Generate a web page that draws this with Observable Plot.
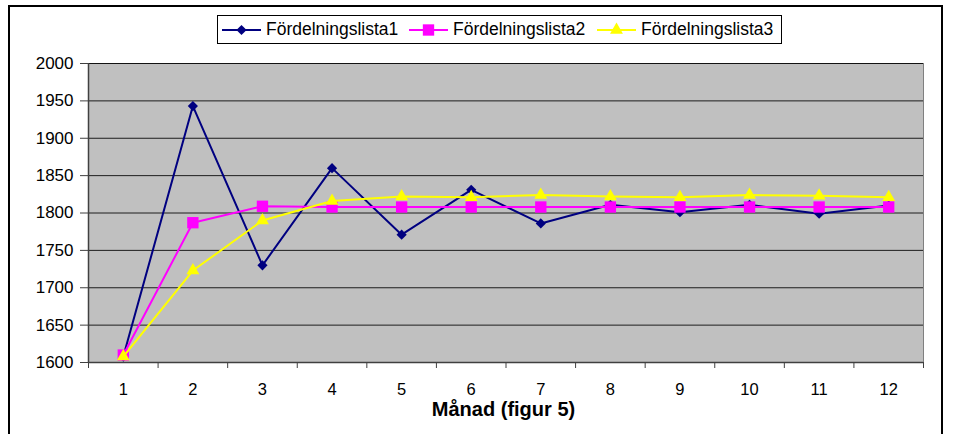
<!DOCTYPE html>
<html>
<head>
<meta charset="utf-8">
<script src="https://cdn.jsdelivr.net/npm/d3@7"></script>
<script src="https://cdn.jsdelivr.net/npm/@observablehq/plot@0.6"></script>
<style>
  html, body { margin: 0; padding: 0; background: #fff; }
  #wrap { position: relative; width: 953px; height: 434px; overflow: hidden; font-family: "Liberation Sans", Arial, sans-serif; }
  #border { position: absolute; left: 8px; top: 5px; width: 935px; height: 440px; border: 2px solid #000; box-sizing: border-box; }
  #chart { position: absolute; left: 0; top: 0; }
  #legend { position: absolute; left: 217px; top: 15px; width: 565px; height: 29px; border: 1px solid #000; box-sizing: border-box; background: #fff; }
  .item { position: absolute; top: 0; height: 27px; display: flex; align-items: center; font-size: 17.5px; color: #000; white-space: nowrap; }
  .item svg { margin-right: 5px; }
</style>
</head>
<body>
<div id="wrap">
  <div id="border"></div>
  <div id="chart"></div>
  <div id="legend"></div>
</div>
<script>
const months = [1, 2, 3, 4, 5, 6, 7, 8, 9, 10, 11, 12];
const seriesNames = ["Fördelningslista1", "Fördelningslista2", "Fördelningslista3"];
const lista1 = [1608, 1943, 1730, 1860, 1771, 1831, 1786, 1811, 1801, 1811, 1799, 1810];
const lista2 = [1610, 1787, 1809, 1808, 1808, 1808, 1808, 1808, 1808, 1808, 1808, 1808];
const lista3 = [1608, 1723, 1790, 1816, 1822, 1821, 1824, 1822, 1821, 1824, 1823, 1821];
const yTicks = [1600, 1650, 1700, 1750, 1800, 1850, 1900, 1950, 2000];
const xTitle = "Månad (figur 5)";

const styles = [
  {color: "#000080", symbol: "diamond2", r: 4.6},
  {color: "#FF00FF", symbol: "square", r: 6.4},
  {color: "#FFFF00", symbol: "triangle", r: 4.8}
];

const allSeries = [lista1, lista2, lista3];
const tables = allSeries.map((vals, i) => months.map((m, j) => ({month: m, value: vals[j], series: seriesNames[i]})));
const bounds = months.map(m => m - 0.5).concat([months[months.length - 1] + 0.5]);

const seriesMarks = [];
tables.forEach((t, i) => {
  const s = styles[i];
  seriesMarks.push(Plot.line(t, {x: "month", y: "value", stroke: s.color, strokeWidth: 2}));
  seriesMarks.push(Plot.dot(t, {x: "month", y: "value", symbol: () => s.symbol, fill: s.color, stroke: "none", r: s.r}));
});

const chart = Plot.plot({
  width: 953,
  height: 434,
  marginLeft: 88,
  marginRight: 30,
  marginTop: 63,
  marginBottom: 72,
  style: {background: "none", fontFamily: "'Liberation Sans', Arial, sans-serif", color: "#000", overflow: "visible"},
  x: {type: "linear", domain: [bounds[0], bounds[bounds.length - 1]]},
  y: {type: "linear", domain: [yTicks[0], yTicks[yTicks.length - 1]]},
  symbol: {type: "identity"},
  marks: [
    Plot.frame({fill: "#C0C0C0", stroke: "#808080"}),
    Plot.ruleY(yTicks, {stroke: "#000", strokeWidth: 1, strokeOpacity: 0.85}),
    Plot.axisY({ticks: yTicks, tickSize: 8, tickPadding: 7, fontSize: 17, tickFormat: d => String(d), label: null, stroke: "#404040"}),
    Plot.axisX({ticks: bounds, tickSize: 6, tickFormat: () => "", label: null, stroke: "#404040"}),
    Plot.axisX({ticks: months, tickSize: 0, tickPadding: 21, fontSize: 16.5, tickFormat: d => String(d), label: null}),
    Plot.ruleX([bounds[0]], {stroke: "#404040", strokeWidth: 1.5}),
    Plot.ruleY([yTicks[0]], {stroke: "#404040", strokeWidth: 1.5}),
    ...seriesMarks,
    Plot.text([xTitle], {frameAnchor: "bottom", dx: -2.5, dy: 53, fontWeight: "bold", fontSize: 20, fill: "#000"})
  ]
});
document.getElementById("chart").appendChild(chart);

// Legend
const legend = document.getElementById("legend");
const itemLefts = [4, 191, 379];
const symbolGen = {
  diamond2: d3.symbolDiamond2,
  square: d3.symbolSquare,
  triangle: d3.symbolTriangle
};
seriesNames.forEach((name, i) => {
  const s = styles[i];
  const item = document.createElement("div");
  item.className = "item";
  item.style.left = itemLefts[i] + "px";
  const path = d3.symbol(symbolGen[s.symbol], Math.PI * s.r * s.r)();
  item.innerHTML = `<svg width="39" height="16" viewBox="0 0 39 16"><line x1="0" x2="39" y1="8" y2="8" stroke="${s.color}" stroke-width="2"/><path d="${path}" transform="translate(19.5,8)" fill="${s.color}"/></svg><span>${name}</span>`;
  legend.appendChild(item);
});
</script>
</body>
</html>
